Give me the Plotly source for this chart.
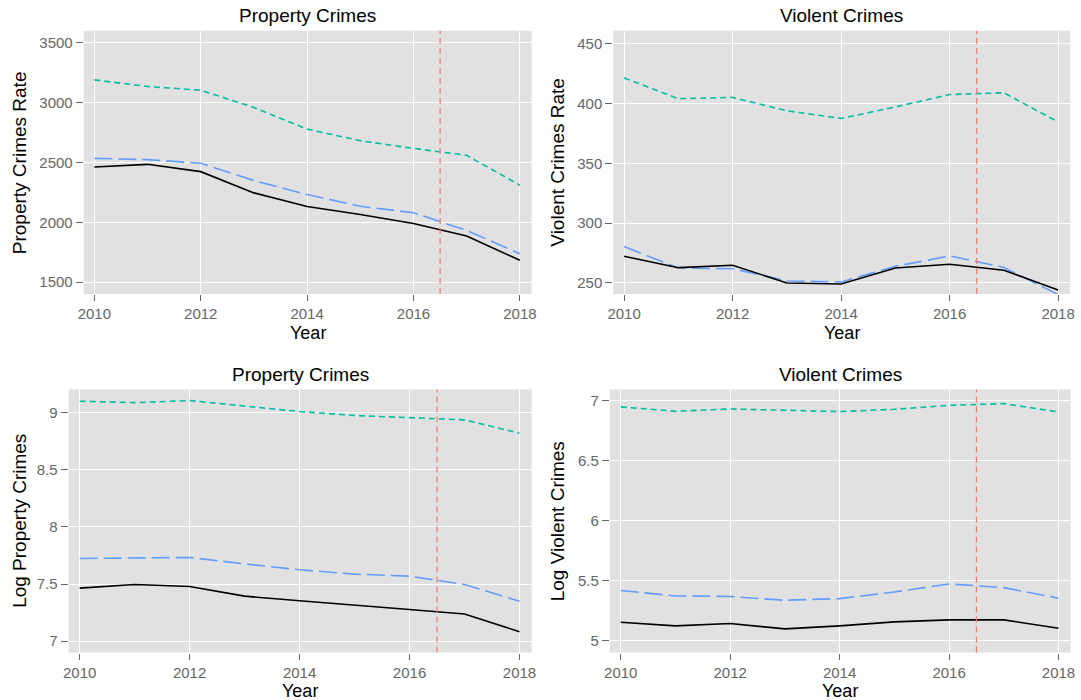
import plotly.graph_objects as go

years = [2010, 2011, 2012, 2013, 2014, 2015, 2016, 2017, 2018]
cutoff_year = 2016.5

# Property crimes rate
prop_rate_black = [2461, 2483, 2422, 2245, 2132, 2065, 1990, 1885, 1683]
prop_rate_blue = [2533, 2522, 2492, 2348, 2231, 2134, 2079, 1932, 1738]
prop_rate_teal = [3187, 3132, 3101, 2957, 2777, 2680, 2616, 2558, 2309]

# Violent crimes rate
viol_rate_black = [272.3, 262.8, 264.8, 250.0, 249.1, 262.5, 265.6, 260.7, 244.2]
viol_rate_blue = [280.4, 262.5, 261.9, 251.7, 250.9, 263.9, 272.6, 263.0, 240.4]
viol_rate_teal = [421.3, 403.9, 405.0, 393.8, 387.4, 397.0, 407.4, 408.8, 384.5]

# Log property crimes
log_prop_black = [7.464, 7.496, 7.479, 7.394, 7.353, 7.312, 7.277, 7.237, 7.082]
log_prop_blue = [7.724, 7.727, 7.733, 7.677, 7.625, 7.587, 7.569, 7.496, 7.350]
log_prop_teal = [9.102, 9.090, 9.108, 9.058, 9.012, 8.977, 8.956, 8.939, 8.822]

# Log violent crimes
log_viol_black = [5.152, 5.122, 5.141, 5.097, 5.122, 5.155, 5.172, 5.172, 5.102]
log_viol_blue = [5.416, 5.371, 5.366, 5.335, 5.349, 5.404, 5.471, 5.440, 5.352]
log_viol_teal = [6.945, 6.909, 6.928, 6.920, 6.906, 6.925, 6.958, 6.972, 6.903]

panel_titles = ["Property Crimes", "Violent Crimes", "Property Crimes", "Violent Crimes"]
y_titles = ["Property Crimes Rate", "Violent Crimes Rate", "Log Property Crimes", "Log Violent Crimes"]
x_title = "Year"
x_ticks = [2010, 2012, 2014, 2016, 2018]
y_ticks = [
    [1500, 2000, 2500, 3000, 3500],
    [250, 300, 350, 400, 450],
    [7, 7.5, 8, 8.5, 9],
    [5, 5.5, 6, 6.5, 7],
]
y_tick_text = [
    ["1500", "2000", "2500", "3000", "3500"],
    ["250", "300", "350", "400", "450"],
    ["7", "7.5", "8", "8.5", "9"],
    ["5", "5.5", "6", "6.5", "7"],
]
y_ranges = [[1402, 3597], [240.8, 460.7], [6.9, 9.205], [4.9, 7.09]]

panels = [
    (prop_rate_black, prop_rate_blue, prop_rate_teal),
    (viol_rate_black, viol_rate_blue, viol_rate_teal),
    (log_prop_black, log_prop_blue, log_prop_teal),
    (log_viol_black, log_viol_blue, log_viol_teal),
]

W, H = 1081, 700
# pixel boxes of plot areas: (left, right, top, bottom)
boxes = [
    (78.5, 531, 30.7, 294),
    (613.5, 1075, 30.7, 294),
    (63.3, 531, 389.5, 652.5),
    (610, 1075.5, 389.5, 652.5),
]
ytitle_x = [13, 557, 13, 557]
xtitle_off = [38.5, 38.5, 38.0, 38.0]

BLACK = "#000000"
BLUE = "#619CFF"
TEAL = "#00BFA4"
RED = "#F8766D"
BG = "#E1E1E1"
TICKC = "#666666"
FONT = "Liberation Sans, Arial, Helvetica, sans-serif"

fig = go.Figure()
annotations = []
shapes = []
layout = {}
for i, (data, box) in enumerate(zip(panels, boxes)):
    n = "" if i == 0 else str(i + 1)
    xa, ya = "x" + n, "y" + n
    l, r, t, b = box
    xdom = [l / W, r / W]
    ydom = [1 - b / H, 1 - t / H]
    black, blue, teal = data
    fig.add_trace(go.Scatter(x=years, y=teal, mode="lines", xaxis=xa, yaxis=ya,
                             line=dict(color=TEAL, width=1.6, dash="6px,4px"), showlegend=False))
    fig.add_trace(go.Scatter(x=years, y=blue, mode="lines", xaxis=xa, yaxis=ya,
                             line=dict(color=BLUE, width=1.6, dash="18px,6px"), showlegend=False))
    fig.add_trace(go.Scatter(x=years, y=black, mode="lines", xaxis=xa, yaxis=ya,
                             line=dict(color=BLACK, width=1.6), showlegend=False))
    common = dict(showgrid=True, gridcolor="white", gridwidth=1.3, zeroline=False,
                  ticks="outside", tickwidth=1, tickcolor=TICKC,
                  tickfont=dict(family=FONT, size=15, color=TICKC), showline=False)
    layout["xaxis" + n] = dict(domain=xdom, anchor=ya, range=[2009.8, 2018.22], ticklen=6,
                               tickvals=x_ticks, ticktext=[str(v) for v in x_ticks], **common)
    layout["yaxis" + n] = dict(domain=ydom, anchor=xa, range=y_ranges[i], ticklen=7,
                               tickvals=y_ticks[i], ticktext=y_tick_text[i], **common)
    shapes.append(dict(type="line", xref=xa, yref=ya + " domain", x0=cutoff_year, x1=cutoff_year,
                       y0=0, y1=1, line=dict(color=RED, width=1.2, dash="6px,4px")))
    cx = (l + r) / 2 / W
    annotations.append(dict(text=panel_titles[i], x=cx, y=1 - (t - 15) / H, xref="paper", yref="paper",
                            showarrow=False, xanchor="center", yanchor="middle",
                            font=dict(family=FONT, size=19, color="black")))
    annotations.append(dict(text=x_title, x=cx, y=1 - (b + xtitle_off[i]) / H, xref="paper", yref="paper",
                            showarrow=False, xanchor="center", yanchor="middle",
                            font=dict(family=FONT, size=18, color="black")))
    annotations.append(dict(text=y_titles[i], x=ytitle_x[i] / W, y=1 - (t + b) / 2 / H,
                            xref="paper", yref="paper", textangle=-90,
                            showarrow=False, xanchor="center", yanchor="middle",
                            font=dict(family=FONT, size=19, color="black")))

fig.update_layout(
    width=W, height=H, margin=dict(l=0, r=0, t=0, b=0),
    paper_bgcolor="white", plot_bgcolor=BG,
    annotations=annotations, shapes=shapes, **layout,
)
fig.write_html("out.html", config={"displayModeBar": False},
               post_script="document.body.style.margin='0px';document.body.style.overflow='hidden';")
